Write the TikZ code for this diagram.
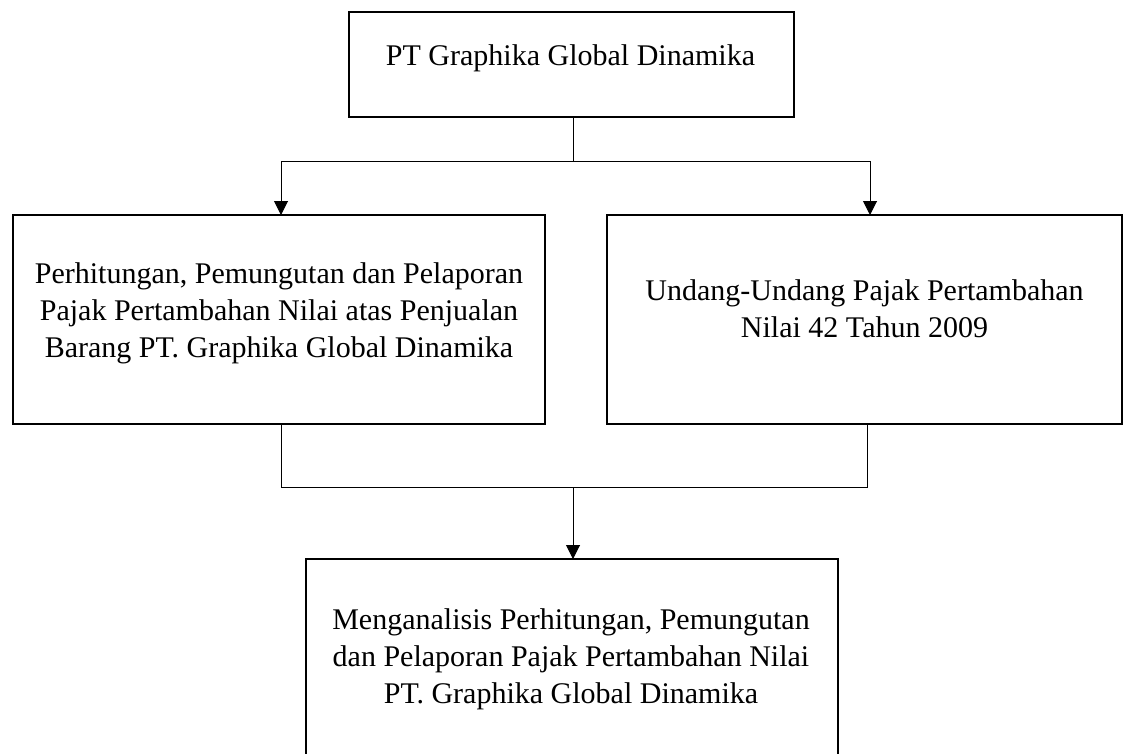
\documentclass[tikz,border=0pt]{standalone}
\usepackage{fontspec}
\setmainfont{Liberation Serif}
\usetikzlibrary{arrows.meta}
\begin{document}
\begin{tikzpicture}[x=0.75pt,y=-0.75pt,
  box/.style={draw, line width=0.9pt, inner sep=0pt, outer sep=0pt},
  txt/.style={align=center, font=\fontsize{22.5}{27.75}\selectfont, inner sep=0pt, anchor=base},
  conn/.style={line width=0.75pt},
  arr/.style={conn, -{Triangle[width=10.5pt,length=10.5pt]}}]
\useasboundingbox (0,0) rectangle (1124,753);
\clip (0,0) rectangle (1124,753);
% boxes
\node[box, minimum width=445*0.75pt, minimum height=105*0.75pt] (top) at (571.5,64.5) {};
\node[box, minimum width=532*0.75pt, minimum height=209*0.75pt] (left) at (279,319.5) {};
\node[box, minimum width=515*0.75pt, minimum height=209*0.75pt] (right) at (864.5,319.5) {};
\node[box, minimum width=532*0.75pt, minimum height=220*0.75pt] (bottom) at (572,669) {};
% texts (base anchor = baseline of last line)
\node[txt] (t0) at (570.5,65) {PT Graphika Global Dinamika};
\node[txt] (t1) at (279,357) {Perhitungan, Pemungutan dan Pelaporan\\Pajak Pertambahan Nilai atas Penjualan\\Barang PT. Graphika Global Dinamika};
\node[txt] (t2) at (864.5,337) {Undang-Undang Pajak Pertambahan\\Nilai 42 Tahun 2009};
\node[txt] (t3) at (571,703) {Menganalisis Perhitungan, Pemungutan\\dan Pelaporan Pajak Pertambahan Nilai\\PT. Graphika Global Dinamika};
% connectors
\coordinate (split) at (573,161);
\coordinate (jl) at (281,161);
\coordinate (jr) at (870,161);
\coordinate (ml) at (281,487);
\coordinate (mr) at (867,487);
\coordinate (merge) at (573,487);
\draw[conn] (top.south -| split) -- (split);
\draw[conn] (jl) -- (jr);
\draw[arr] (jl) -- (jl |- left.north);
\draw[arr] (jr) -- (jr |- right.north);
\draw[conn] (ml |- left.south) -- (ml) -- (mr) -- (mr |- right.south);
\draw[arr] (merge) -- (merge |- bottom.north);
\end{tikzpicture}
\end{document}
